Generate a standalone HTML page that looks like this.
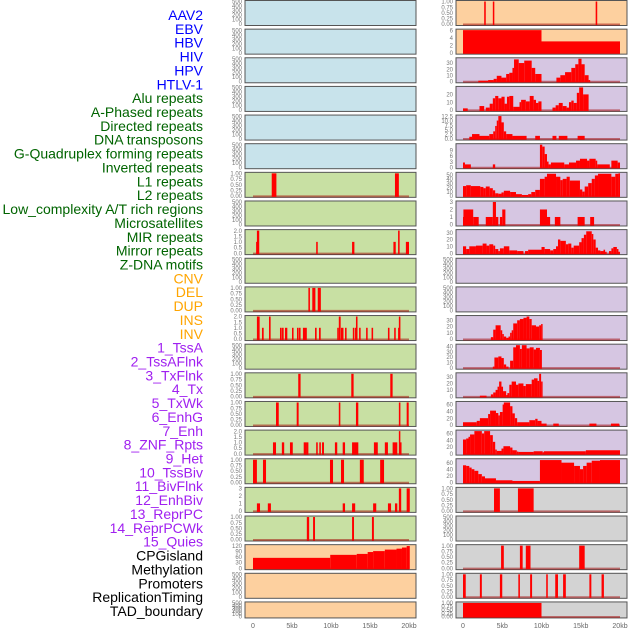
<!DOCTYPE html>
<html><head><meta charset="utf-8">
<style>
html,body{margin:0;padding:0;background:#fff;}
svg{display:block;font-family:"Liberation Sans",sans-serif;}
</style></head>
<body>
<svg id="chart" width="630" height="630" viewBox="0 0 630 630" xmlns="http://www.w3.org/2000/svg"></svg>
<script>
// ---- labels ----
const trackLabels = ["AAV2","EBV","HBV","HIV","HPV","HTLV-1","Alu repeats","A-Phased repeats","Directed repeats","DNA transposons","G-Quadruplex forming repeats","Inverted repeats","L1 repeats","L2 repeats","Low_complexity A/T rich regions","Microsatellites","MIR repeats","Mirror repeats","Z-DNA motifs","CNV","DEL","DUP","INS","INV","1_TssA","2_TssAFlnk","3_TxFlnk","4_Tx","5_TxWk","6_EnhG","7_Enh","8_ZNF_Rpts","9_Het","10_TssBiv","11_BivFlnk","12_EnhBiv","13_ReprPC","14_ReprPCWk","15_Quies","CPGisland","Methylation","Promoters","ReplicationTiming","TAD_boundary"];
const labelGroups = [6,13,5,15,5];
const labelColors = ["#0000ff","#006400","#ffa500","#a020f0","#000000"];
// ---- x axis ----
const xTicks = [0,5,10,15,20];
const xTickLabels = ["0","5kb","10kb","15kb","20kb"];
// ---- tick sets ----
const T500 = [0,100,200,300,400,500];
const T1 = [0,0.25,0.5,0.75,1];
const T2 = [0,0.5,1,1.5,2];
const T3 = [0,1,2,3];
// ---- left column data: [startKb, endKb, value] ----
const L6 = [[2.4,3.0,1],[18.2,18.7,1]];
const L8 = [[0.4,0.5,1],[0.5,0.8,2],[8.1,8.3,1],[12.7,13.0,1],[18.0,18.3,1],[18.6,18.8,2],[19.6,20,1]];
const L10 = [[7.1,7.3,1],[7.6,8.0,1],[8.3,8.7,1]];
const L11 = [[0.5,0.85,2],[1.15,1.37,1],[2.05,2.26,2],[3.46,3.68,1],[3.72,3.93,1],[4.1,4.4,1],[5.0,5.2,1],[5.64,5.85,1],[5.9,6.1,1],[6.4,6.9,1],[7.95,8.16,1],[8.46,8.68,1],[10.8,11.0,1],[11.0,11.24,2],[11.28,11.6,1],[11.8,12.0,1],[12.8,13.0,1],[13.08,13.2,1],[13.2,13.4,2],[13.6,13.8,1],[14.5,14.7,1],[15.2,15.4,1],[17.3,17.5,1],[18.1,18.3,1],[18.6,18.7,1],[18.7,18.9,2]];
const L13 = [[5.8,6.1,1],[12.6,12.9,1],[17.6,17.9,1]];
const L14 = [[2.95,3.3,1],[5.6,5.85,1],[11.0,11.2,1],[13.2,13.5,1],[18.7,18.9,1],[19.7,19.96,1]];
const L15 = [[2.56,2.95,1],[3.7,4.0,1],[4.74,5.1,1],[6.5,6.8,1],[6.8,7.1,1],[8.1,8.3,1],[8.5,8.7,1],[8.85,9.1,1],[10.5,10.8,1],[11.5,11.8,1],[12.7,12.95,1],[12.95,13.5,1],[15.5,16.0,1],[16.9,17.3,1],[17.9,18.5,1],[18.7,18.85,2],[18.85,19.0,1]];
const L16 = [[0,0.5,1],[1.28,1.67,1],[9.87,10.26,1],[11.28,11.67,1],[13.7,14.2,1],[16.3,16.8,1]];
const L17 = [[0.5,0.9,1],[1.9,2.3,1],[11.5,11.8,1],[12.7,13.1,1],[15.4,15.8,1],[17.3,17.7,1],[18.2,18.5,1],[18.7,19.0,3],[19.7,20.1,3]];
const L18 = [[6.9,7.2,1],[7.7,7.95,1],[12.7,12.95,1],[15.25,15.5,1]];
const L19 = [[0,9.9,55],[9.9,13.3,71],[13.3,14.7,76],[14.7,15.4,86],[15.4,16.9,91],[16.9,18.4,99],[18.4,19.1,104],[19.1,19.7,110],[19.7,20.1,118]];
// ---- right column data ----
const R0 = [[2.7,2.9,1],[3.8,3.9,1],[16.9,17.1,1]];
const R1 = [[0,10,6],[10,20,3]];
const R2 = [[1.95,3.2,1],[3.2,3.9,2],[3.9,4.3,4],[4.3,4.9,9],[4.9,5.5,6],[5.5,5.9,12],[5.9,6.3,14],[6.3,6.5,22],[6.5,7.1,36],[7.1,7.8,30],[7.8,8.75,34],[8.75,9.2,22],[9.2,10,12],[11.9,12.4,6],[12.4,13,10],[13,13.8,15],[13.8,14.3,22],[14.3,14.7,28],[14.7,15.1,37],[15.1,15.5,28],[15.5,16,10],[16,16.2,2]];
const R3 = [[0,0.6,2],[2.1,2.7,5],[2.9,3.4,3],[3.4,3.8,8],[3.8,4.1,15],[4.1,4.5,18],[4.5,4.9,15],[4.9,5.3,17],[5.3,5.6,8],[5.6,5.9,17],[5.9,6.4,18],[6.4,7.2,4],[7.2,7.4,10],[7.4,8.0,13],[8.0,8.5,11],[8.5,9.0,18],[9.0,9.3,13],[9.3,9.6,9],[9.6,10.0,11],[11.4,11.8,3],[11.8,12.2,6],[12.2,12.7,9],[12.7,13.2,5],[13.2,13.5,3],[13.5,13.8,10],[13.8,14.1,12],[14.1,14.5,9],[14.5,14.8,22],[14.8,15.3,29],[15.3,16.0,20]];
const R4 = [[0.8,1.15,1],[1.15,2.1,2.5],[2.1,3.35,1.5],[3.35,3.85,2.5],[3.85,4.1,4],[4.1,4.3,7],[4.3,4.5,10],[4.5,4.9,12.5],[4.9,5.2,9],[5.2,5.5,4],[5.5,6.3,2.5],[6.3,8.1,1.5],[9.2,9.8,1.5],[11.4,11.9,1.5],[12.2,13.3,1.5],[14.6,15.5,1.5]];
const R5 = [[0,0.25,2.5],[0.25,1.0,1.5],[3.8,4.1,1.5],[9.8,10.1,12],[10.1,10.4,11],[10.4,10.7,7],[10.7,10.9,3],[10.9,11.2,1.5],[11.2,12.9,2.5],[12.9,13.5,1.5],[13.5,14.4,2.5],[14.4,14.9,3.5],[14.9,15.8,4.5],[15.8,16.1,3.5],[16.1,16.9,4.5],[16.9,17.1,3.5],[17.1,18.7,1.5],[18.9,19.7,3.5],[19.7,20.0,2.5]];
const R6 = [[0,0.4,23],[0.4,1.0,25],[1.0,2.2,23],[2.2,2.6,21],[2.6,2.9,18],[2.9,3.4,22],[3.4,3.8,18],[3.8,4.1,13],[4.1,4.5,6],[4.5,4.9,5],[4.9,5.2,8],[5.2,6.0,12],[6.0,6.75,9],[6.75,7.5,4],[7.5,8.3,2],[8.3,8.7,4],[8.7,9.2,9],[9.2,9.8,14],[9.8,10.4,40],[10.4,10.7,45],[10.7,11.85,52],[11.85,12.4,45],[12.4,12.7,37],[12.7,13.2,40],[13.2,13.6,45],[13.6,14.9,36],[14.9,15.2,15],[15.2,15.5,10],[15.5,15.95,22],[15.95,16.4,30],[16.4,16.8,40],[16.8,17.2,48],[17.2,18.9,52],[18.9,19.4,45],[19.4,19.8,52],[19.8,20.0,53]];
const R7 = [[0,0.05,1],[0.05,1.3,2],[1.3,2.0,1],[2.9,3.8,1],[3.8,4.2,3],[4.2,4.5,1],[4.7,5.0,1],[5.0,5.4,2],[9.8,10.7,2],[10.7,11.1,1],[11.7,12.4,1],[14.6,15.5,1],[16.2,16.7,1]];
const R8 = [[0,0.4,10],[0.4,0.8,6],[0.8,1.65,10],[1.65,2.5,11],[2.5,3.0,14],[3.0,3.35,11],[3.35,3.85,13],[3.85,4.1,11],[4.1,4.5,6],[4.5,4.7,3],[4.7,5.2,7],[5.2,5.9,10],[5.9,6.9,4],[6.9,7.7,3],[7.9,8.3,3],[8.3,10.0,5],[10.0,10.4,9],[10.4,11.1,6],[11.1,11.5,4],[11.5,11.85,6],[11.85,12.1,10],[12.1,12.4,20],[12.4,13.1,18],[13.1,13.4,13],[13.4,13.8,14],[13.8,14.1,8],[14.1,14.8,11],[14.8,15.1,16],[15.1,15.4,22],[15.4,15.7,27],[15.7,16.4,32],[16.4,16.6,28],[16.6,16.9,20],[16.9,17.2,8],[17.2,17.5,4],[17.5,17.9,3],[17.9,18.1,5],[18.1,18.3,2],[18.6,18.9,3],[18.9,19.15,7],[19.15,19.6,9],[19.6,19.8,6],[19.8,19.9,2]];
const R11 = [[3.55,3.85,3],[3.85,4.15,15],[4.15,4.8,22],[4.8,5.0,14],[5.0,5.2,8],[5.2,5.5,4],[5.5,5.8,2],[5.8,6.0,4],[6.0,6.2,10],[6.2,6.4,14],[6.4,6.9,25],[6.9,7.25,30],[7.25,7.7,32],[7.7,8.1,34],[8.1,8.45,36],[8.45,8.75,32],[8.75,9.3,22],[9.3,9.7,20],[9.7,9.95,22],[9.95,10.05,24]];
const R12 = [[3.8,4.0,2],[4.0,4.5,19],[4.5,4.9,21],[4.9,5.2,18],[5.2,5.5,6],[5.5,5.8,2],[6.0,6.4,13],[6.4,6.75,38],[6.75,7.25,42],[7.25,7.5,35],[7.5,8.1,42],[8.1,8.5,36],[8.5,9.0,38],[9.0,9.3,34],[9.3,9.8,37],[9.8,10.05,33]];
const R13 = [[2.15,3.0,1],[3.55,3.85,3],[3.85,4.15,6],[4.15,4.4,10],[4.4,4.6,15],[4.6,4.9,23],[4.9,5.1,15],[5.1,5.5,8],[5.5,5.65,2],[5.65,5.9,5],[5.9,6.2,18],[6.2,6.75,23],[6.75,7.05,18],[7.05,7.7,20],[7.7,8.0,16],[8.0,8.75,19],[8.75,9.05,26],[9.05,9.5,28],[9.5,9.7,24],[9.7,9.95,35],[9.95,10.05,23]];
const R14 = [[0,1.75,8],[1.75,2.15,12],[2.15,3.2,20],[3.2,3.45,32],[3.45,4.2,42],[4.2,4.5,35],[4.5,4.7,28],[4.7,5.05,38],[5.05,5.2,60],[5.2,6.0,66],[6.0,6.3,55],[6.3,6.6,34],[6.6,6.9,20],[6.9,8.45,8],[8.45,9.2,14],[9.2,9.5,18],[9.5,10.0,12],[10.0,10.65,4],[11.5,12.2,4],[16.1,17.0,4],[18.85,19.9,4]];
const R15 = [[0,0.4,42],[0.4,0.7,45],[0.7,0.9,50],[0.9,1.45,57],[1.45,2.4,67],[2.4,2.7,60],[2.7,3.45,67],[3.45,3.8,55],[3.8,4.1,35],[4.1,4.3,12],[4.3,4.9,8],[4.9,5.15,15],[5.15,6.0,22],[6.0,6.3,18],[6.3,6.85,10],[6.85,7.05,6],[7.05,9.0,5],[9.0,10.15,7],[10.15,10.3,4],[10.3,15.65,7],[15.65,20.0,10]];
const R16 = [[0,0.4,52],[0.4,0.8,50],[0.8,1.1,45],[1.1,1.45,40],[1.45,1.95,35],[1.95,2.4,25],[2.4,2.8,18],[2.8,4.2,12],[4.2,6.3,6],[6.3,9.8,4],[9.8,12.55,68],[12.55,14.15,60],[14.15,14.9,50],[14.9,15.3,40],[15.3,15.75,50],[15.75,16.4,60],[16.4,17.45,66],[17.45,20.0,68]];
const R17 = [[3.95,4.7,1],[7.0,9.0,1]];
const R19 = [[4.85,5.2,1],[7.25,7.6,1],[8.0,8.6,1],[14.8,15.5,1]];
const R20 = [[0,0.35,1],[2.15,2.4,1],[4.7,5.0,1],[7.05,7.25,1],[8.55,8.8,1],[10.6,10.8,1],[11.75,12.1,1],[12.75,13.1,1],[16.1,16.35,1],[17.65,17.95,1]];
const R21 = [[0,10.0,1]];

const BLUE="#c8e3eb", GREEN="#c8e0a3", PEACH="#fdd09f", LAV="#d6c6e2", GRAY="#d3d3d3";
function T(ticks,ymax,fmt){return {ticks:ticks,ymax:ymax,fmt:fmt};}
const t500=T(T500,500,0), t1=T(T1,1,2), t2=T(T2,2,1), t3=T(T3,3,0);
const leftRows = [
 [BLUE,t500,null],[BLUE,t500,null],[BLUE,t500,null],[BLUE,t500,null],[BLUE,t500,null],[BLUE,t500,null],
 [GREEN,t1,L6],[GREEN,t500,null],[GREEN,t2,L8],[GREEN,t500,null],[GREEN,t1,L10],[GREEN,t2,L11],
 [GREEN,t500,null],[GREEN,t1,L13],[GREEN,t1,L14],[GREEN,t2,L15],[GREEN,t1,L16],[GREEN,t3,L17],[GREEN,t1,L18],
 [PEACH,T([0,30,60,90,120],120,0),L19],[PEACH,t500,null],[PEACH,t500,null]
];
const rightRows = [
 [PEACH,t1,R0],[PEACH,T([0,2,4,6],6,0),R1],[LAV,T([0,10,20,30],37,0),R2],[LAV,T([0,10,20],29,0),R3],
 [LAV,T([0,2.5,5,7.5,10,12.5],12.5,1),R4],[LAV,T([0,3,6,9],12,0),R5],[LAV,T([0,10,20,30,40,50],53,0),R6],
 [LAV,t3,R7],[LAV,T([0,10,20,30],33,0),R8],[LAV,t500,null],[LAV,t500,null],
 [LAV,T([0,10,20,30],36,0),R11],[LAV,T([0,10,20,30,40],42,0),R12],[LAV,T([0,10,20,30],35,0),R13],
 [LAV,T([0,20,40,60],66,0),R14],[LAV,T([0,20,40,60],67,0),R15],[LAV,T([0,20,40,60],69,0),R16],
 [GRAY,t1,R17],[GRAY,t500,null],[GRAY,t1,R19],[GRAY,t1,R20],[GRAY,t1,R21]
];

const NS="http://www.w3.org/2000/svg";
const svg=document.getElementById('chart');
function mk(tag,attrs,parent){const e=document.createElementNS(NS,tag);for(const k in attrs)e.setAttribute(k,attrs[k]);(parent||svg).appendChild(e);return e;}

let li=0;
labelGroups.forEach((n,g)=>{for(let j=0;j<n;j++,li++){
  const t=mk('text',{x:203,y:20+li*13.86,'text-anchor':'end','font-size':14,fill:labelColors[g]});
  
  
  t.textContent=trackLabels[li];
}});

const cols=[{rows:leftRows,px0:245,px1:416,x0:253,x20:409,name:'left'},{rows:rightRows,px0:456,px1:627,x0:463,x20:620,name:'right'}];
cols.forEach(col=>{
  const xs=kb=>col.x0+(kb/20)*(col.x20-col.x0);
  col.rows.forEach((r,i)=>{
    const top=i*28.64, h=(i===21?16:25), bottom=top+h;
    const [bg,tk,data]=r;
    const g=mk('g',{});
    
    
    mk('rect',{x:col.px0,y:top+0.5,width:col.px1-col.px0,height:h,fill:bg,stroke:'#555','stroke-width':1},g);
    const ys=v=>bottom-1-(v/tk.ymax)*(h-2.5);
    tk.ticks.forEach(v=>{
      const t=mk('text',{x:col.px0-3,y:ys(v)+2.2,'text-anchor':'end','font-size':6,fill:'#777'},g);
      
      
      t.textContent=v.toFixed(tk.fmt);
    });
    if(data){
      mk('line',{x1:xs(0),x2:xs(20),y1:bottom-0.5,y2:bottom-0.5,stroke:'rgba(160,0,0,0.5)','stroke-width':2},g);
      data.forEach(d=>{
        const x1=xs(d[0]),x2=xs(d[1]);
        const b=mk('rect',{x:x1,y:ys(d[2]),width:Math.max(1.5,x2-x1),height:bottom-ys(d[2]),fill:'#ff0000'},g);
        
        
      });
    }
  });
  xTicks.forEach((v,k)=>{
    const t=mk('text',{x:xs(v),y:628,'text-anchor':'middle','font-size':7,fill:'#666'});
    
    
    t.textContent=xTickLabels[k];
  });
});
</script>
</body></html>
